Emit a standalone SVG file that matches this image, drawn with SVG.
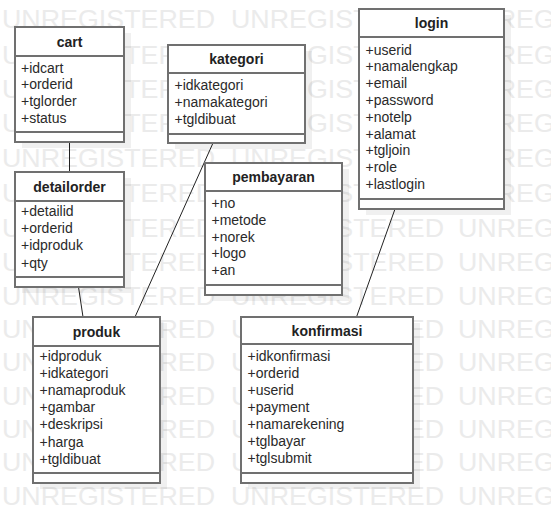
<svg xmlns="http://www.w3.org/2000/svg" width="551" height="510" viewBox="0 0 551 510">
<style>
.wm{font-family:"Liberation Sans",Arial,sans-serif;font-size:25px;fill:#ebebeb}
.shadow{fill:#000;fill-opacity:0.06}
.frame{fill:#fff;stroke:#707070;stroke-width:2}
.sep{stroke:#707070;stroke-width:2}
.title{font-family:"Liberation Sans",Arial,sans-serif;font-size:14px;font-weight:bold;fill:#222;text-anchor:middle}
.attr{font-family:"Liberation Sans",Arial,sans-serif;font-size:14px;fill:#2a2a2a}
.conn{stroke:#222;stroke-width:1;fill:none}
</style>
<defs>
<g id="wmrow">
<text class="wm" x="2" y="0" textLength="213" lengthAdjust="spacingAndGlyphs">UNREGISTERED</text>
<text class="wm" x="231" y="0" textLength="213" lengthAdjust="spacingAndGlyphs">UNREGISTERED</text>
<text class="wm" x="458" y="0" textLength="213" lengthAdjust="spacingAndGlyphs">UNREGISTERED</text>
</g>
</defs>
<rect width="551" height="510" fill="#fff"/>
<g id="watermark">
<use href="#wmrow" y="28"/>
<use href="#wmrow" y="64"/>
<use href="#wmrow" y="98"/>
<use href="#wmrow" y="132"/>
<use href="#wmrow" y="167"/>
<use href="#wmrow" y="202"/>
<use href="#wmrow" y="237"/>
<use href="#wmrow" y="271"/>
<use href="#wmrow" y="305"/>
<use href="#wmrow" y="338"/>
<use href="#wmrow" y="371"/>
<use href="#wmrow" y="405"/>
<use href="#wmrow" y="438"/>
<use href="#wmrow" y="471"/>
<use href="#wmrow" y="505"/>
</g>
<g id="connectors">
<line class="conn" x1="69.5" y1="142" x2="69.5" y2="172"/>
<line class="conn" x1="78.5" y1="287" x2="83" y2="317"/>
<line class="conn" x1="213" y1="143" x2="135" y2="317"/>
<line class="conn" x1="395" y1="209" x2="356.5" y2="317"/>
</g>
<g id="cart">
<rect class="shadow" x="22" y="33" width="109" height="115"/>
<rect class="frame" x="15" y="27" width="109" height="115"/>
<line class="sep" x1="15" y1="56" x2="124" y2="56"/>
<line class="sep" x1="15" y1="132" x2="124" y2="132"/>
<text class="title" x="69.5" y="46.5">cart</text>
<text class="attr"><tspan x="21" y="72.5">+idcart</tspan><tspan x="21" y="89.2">+orderid</tspan><tspan x="21" y="105.8">+tglorder</tspan><tspan x="21" y="122.5">+status</tspan></text>
</g>
<g id="detailorder">
<rect class="shadow" x="22" y="178" width="109" height="115"/>
<rect class="frame" x="15" y="172" width="109" height="115"/>
<line class="sep" x1="15" y1="201" x2="124" y2="201"/>
<line class="sep" x1="15" y1="277" x2="124" y2="277"/>
<text class="title" x="69.5" y="191.5">detailorder</text>
<text class="attr"><tspan x="21" y="216.2">+detailid</tspan><tspan x="21" y="233.3">+orderid</tspan><tspan x="21" y="250.4">+idproduk</tspan><tspan x="21" y="267.5">+qty</tspan></text>
</g>
<g id="produk">
<rect class="shadow" x="40" y="323" width="127" height="166"/>
<rect class="frame" x="33" y="317" width="127" height="166"/>
<line class="sep" x1="33" y1="346" x2="160" y2="346"/>
<line class="sep" x1="33" y1="473" x2="160" y2="473"/>
<text class="title" x="96.5" y="336.5">produk</text>
<text class="attr"><tspan x="39.5" y="361.2">+idproduk</tspan><tspan x="39.5" y="378.3">+idkategori</tspan><tspan x="39.5" y="395.3">+namaproduk</tspan><tspan x="39.5" y="412.4">+gambar</tspan><tspan x="39.5" y="429.4">+deskripsi</tspan><tspan x="39.5" y="446.5">+harga</tspan><tspan x="39.5" y="463.5">+tgldibuat</tspan></text>
</g>
<g id="kategori">
<rect class="shadow" x="175" y="51" width="137" height="98"/>
<rect class="frame" x="168" y="45" width="137" height="98"/>
<line class="sep" x1="168" y1="73" x2="305" y2="73"/>
<line class="sep" x1="168" y1="134" x2="305" y2="134"/>
<text class="title" x="236.5" y="64">kategori</text>
<text class="attr"><tspan x="174.5" y="89.5">+idkategori</tspan><tspan x="174.5" y="106.6">+namakategori</tspan><tspan x="174.5" y="123.8">+tgldibuat</tspan></text>
</g>
<g id="pembayaran">
<rect class="shadow" x="212" y="169" width="137" height="132"/>
<rect class="frame" x="205" y="163" width="137" height="132"/>
<line class="sep" x1="205" y1="191" x2="342" y2="191"/>
<line class="sep" x1="205" y1="285" x2="342" y2="285"/>
<text class="title" x="273.5" y="182">pembayaran</text>
<text class="attr"><tspan x="211.5" y="207.8">+no</tspan><tspan x="211.5" y="224.7">+metode</tspan><tspan x="211.5" y="241.5">+norek</tspan><tspan x="211.5" y="258.4">+logo</tspan><tspan x="211.5" y="275.2">+an</tspan></text>
</g>
<g id="login">
<rect class="shadow" x="366" y="15" width="145" height="200"/>
<rect class="frame" x="359" y="9" width="145" height="200"/>
<line class="sep" x1="359" y1="37" x2="504" y2="37"/>
<line class="sep" x1="359" y1="199" x2="504" y2="199"/>
<text class="title" x="431.5" y="28">login</text>
<text class="attr"><tspan x="365.5" y="54.5">+userid</tspan><tspan x="365.5" y="71.3">+namalengkap</tspan><tspan x="365.5" y="88.1">+email</tspan><tspan x="365.5" y="104.9">+password</tspan><tspan x="365.5" y="121.7">+notelp</tspan><tspan x="365.5" y="138.5">+alamat</tspan><tspan x="365.5" y="155.2">+tgljoin</tspan><tspan x="365.5" y="172">+role</tspan><tspan x="365.5" y="188.8">+lastlogin</tspan></text>
</g>
<g id="konfirmasi">
<rect class="shadow" x="248" y="323" width="172" height="166"/>
<rect class="frame" x="241" y="317" width="172" height="166"/>
<line class="sep" x1="241" y1="344" x2="413" y2="344"/>
<line class="sep" x1="241" y1="473" x2="413" y2="473"/>
<text class="title" x="327" y="335.5">konfirmasi</text>
<text class="attr"><tspan x="247.5" y="361.2">+idkonfirmasi</tspan><tspan x="247.5" y="378.1">+orderid</tspan><tspan x="247.5" y="395.1">+userid</tspan><tspan x="247.5" y="412">+payment</tspan><tspan x="247.5" y="428.9">+namarekening</tspan><tspan x="247.5" y="445.9">+tglbayar</tspan><tspan x="247.5" y="462.8">+tglsubmit</tspan></text>
</g>
</svg>
